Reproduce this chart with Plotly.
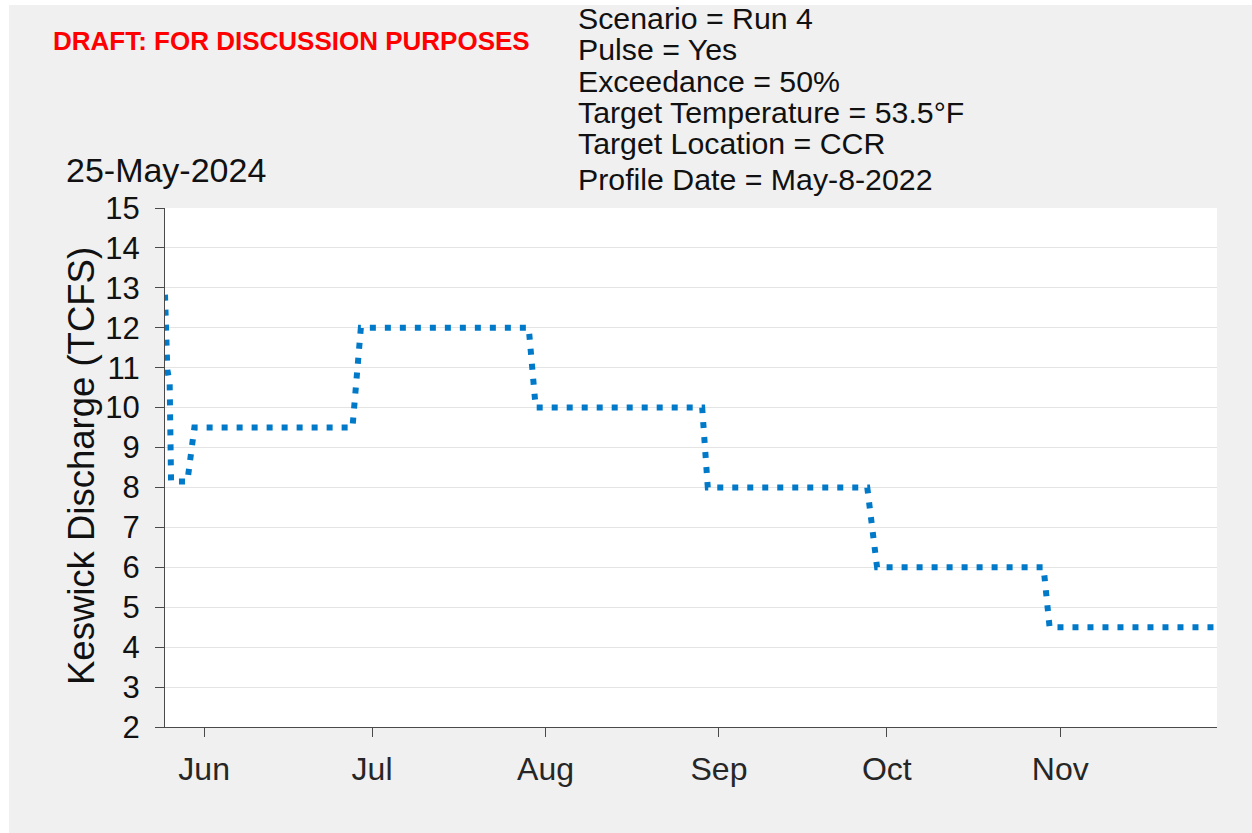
import plotly.graph_objects as go

# Keswick release schedule (thousand cfs)
release_times = [
    "2024-05-25 00:00", "2024-05-25 04:00", "2024-05-25 10:00", "2024-05-25 20:00",
    "2024-05-26 02:00", "2024-05-29 00:00", "2024-05-30 06:00",
    "2024-06-27 12:00", "2024-06-29 00:00",
    "2024-07-29 00:00", "2024-07-30 06:00",
    "2024-08-29 00:00", "2024-08-30 00:00",
    "2024-09-27 12:00", "2024-09-29 06:00",
    "2024-10-29 00:00", "2024-10-30 02:00",
    "2024-11-29 00:00",
]
release_tcfs = [
    12.83, 11.3, 10.95, 10.62,
    8.15, 8.15, 9.5,
    9.5, 12.0,
    12.0, 10.0,
    10.0, 8.0,
    8.0, 6.0,
    6.0, 4.5,
    4.5,
]

month_ticks = ["2024-06-01", "2024-07-01", "2024-08-01", "2024-09-01", "2024-10-01", "2024-11-01"]
month_labels = ["Jun", "Jul", "Aug", "Sep", "Oct", "Nov"]
y_ticks = list(range(2, 16))

run_date = "25-May-2024"
draft_note = "DRAFT: FOR DISCUSSION PURPOSES"
scenario_lines = [
    "Scenario = Run 4",
    "Pulse = Yes",
    "Exceedance = 50%",
    "Target Temperature = 53.5°F",
    "Target Location = CCR",
    "Profile Date = May-8-2022",
]
y_title = "Keswick Discharge (TCFS)"

W, H = 1252, 833
L, R, T, B = 165, 35, 208, 106
PW, PH = W - L - R, H - T - B


def px_x(px):
    return (px - L) / PW


def px_y(py):
    return (H - B - py) / PH


FONT = "Liberation Sans, Arial, Helvetica, sans-serif"
AXIS_COLOR = "#4a4a4a"

fig = go.Figure()
fig.add_trace(go.Scatter(
    x=release_times, y=release_tcfs, mode="lines",
    line=dict(color="#0079C9", width=6, dash="6px,9px"),
    hoverinfo="x+y",
))

fig.update_xaxes(
    range=["2024-05-25", "2024-11-29"], type="date",
    tickvals=month_ticks, ticktext=month_labels,
    showline=True, linecolor=AXIS_COLOR, linewidth=1,
    ticks="outside", ticklen=9, tickcolor=AXIS_COLOR,
    tickfont=dict(size=32, color="#262626", family=FONT),
    showgrid=False, zeroline=False, ticklabelstandoff=5,
)
fig.update_yaxes(
    range=[2, 15], tickvals=y_ticks,
    showline=True, linecolor=AXIS_COLOR, linewidth=1,
    ticks="outside", ticklen=9, tickcolor=AXIS_COLOR,
    tickfont=dict(size=31, color="#111111", family=FONT),
    showgrid=True, gridcolor="#e4e4e4", gridwidth=1, zeroline=False,
    ticklabelstandoff=9,
)

annotations = [
    dict(text=y_title, x=px_x(81), y=px_y(466), textangle=-90,
         font=dict(size=36.5, color="#111111", family=FONT)),
    dict(text=run_date, x=px_x(64), y=px_y(170), xanchor="left",
         font=dict(size=34, color="#111111", family=FONT)),
    dict(text="<b>" + draft_note + "</b>", x=px_x(51), y=px_y(41), xanchor="left",
         font=dict(size=26, color="#ff0000", family=FONT)),
]
line_y = [18, 50, 81, 112, 143, 180]
for txt, yy in zip(scenario_lines, line_y):
    annotations.append(dict(text=txt, x=px_x(576), y=px_y(yy), xanchor="left",
                            font=dict(size=30.3, color="#111111", family=FONT)))
for a in annotations:
    a.update(xref="paper", yref="paper", showarrow=False, yanchor=a.get("yanchor", "middle"))
    a.setdefault("xanchor", "center")

# thin white border along the top and left edges of the canvas
shapes = [
    dict(type="rect", xref="paper", yref="paper", x0=px_x(-2), x1=px_x(W + 2),
         y0=px_y(5), y1=px_y(-2), fillcolor="white", line=dict(width=0), layer="above"),
    dict(type="rect", xref="paper", yref="paper", x0=px_x(-2), x1=px_x(9),
         y0=px_y(H + 2), y1=px_y(-2), fillcolor="white", line=dict(width=0), layer="above"),
]

fig.update_layout(
    width=W, height=H, margin=dict(l=L, r=R, t=T, b=B),
    paper_bgcolor="#f0f0f0", plot_bgcolor="white",
    showlegend=False, annotations=annotations, shapes=shapes,
    font=dict(family=FONT),
)

fig.write_html("out.html")
